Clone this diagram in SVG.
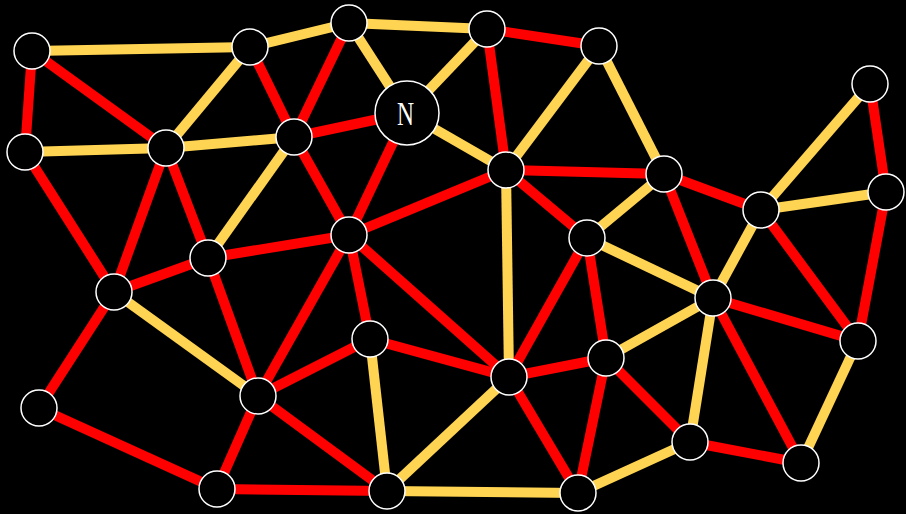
<svg xmlns="http://www.w3.org/2000/svg" width="906" height="514" viewBox="0 0 906 514">
<style>
.r{stroke:#FF0000;stroke-width:10}
.y{stroke:#FFD452;stroke-width:10}
.n{fill:#000;stroke:#fff;stroke-width:1.5}
.t{fill:#fff;font-family:"Liberation Serif",serif;font-size:33px;text-anchor:middle}
</style>
<rect width="906" height="514" fill="#000"/>
<g id="edges">
<line class="y" x1="32" y1="51" x2="250" y2="47"/>
<line class="r" x1="32" y1="51" x2="25" y2="152"/>
<line class="r" x1="32" y1="51" x2="166" y2="148"/>
<line class="y" x1="250" y1="47" x2="349" y2="23"/>
<line class="y" x1="250" y1="47" x2="166" y2="148"/>
<line class="r" x1="250" y1="47" x2="294" y2="137"/>
<line class="y" x1="349" y1="23" x2="487" y2="29"/>
<line class="r" x1="349" y1="23" x2="294" y2="137"/>
<line class="y" x1="349" y1="23" x2="407" y2="113"/>
<line class="y" x1="487" y1="29" x2="407" y2="113"/>
<line class="r" x1="487" y1="29" x2="599" y2="46"/>
<line class="r" x1="487" y1="29" x2="506" y2="170"/>
<line class="y" x1="599" y1="46" x2="506" y2="170"/>
<line class="y" x1="599" y1="46" x2="664" y2="174"/>
<line class="r" x1="407" y1="113" x2="294" y2="137"/>
<line class="y" x1="407" y1="113" x2="506" y2="170"/>
<line class="r" x1="407" y1="113" x2="349" y2="235"/>
<line class="y" x1="25" y1="152" x2="166" y2="148"/>
<line class="r" x1="25" y1="152" x2="114" y2="292"/>
<line class="y" x1="166" y1="148" x2="294" y2="137"/>
<line class="r" x1="166" y1="148" x2="114" y2="292"/>
<line class="r" x1="166" y1="148" x2="208" y2="258"/>
<line class="y" x1="294" y1="137" x2="208" y2="258"/>
<line class="r" x1="294" y1="137" x2="349" y2="235"/>
<line class="r" x1="506" y1="170" x2="664" y2="174"/>
<line class="r" x1="506" y1="170" x2="349" y2="235"/>
<line class="r" x1="506" y1="170" x2="587" y2="238"/>
<line class="y" x1="506" y1="170" x2="509" y2="377"/>
<line class="y" x1="664" y1="174" x2="587" y2="238"/>
<line class="r" x1="664" y1="174" x2="761" y2="210"/>
<line class="r" x1="664" y1="174" x2="713" y2="298"/>
<line class="y" x1="761" y1="210" x2="870" y2="84"/>
<line class="y" x1="761" y1="210" x2="886" y2="192"/>
<line class="y" x1="761" y1="210" x2="713" y2="298"/>
<line class="r" x1="761" y1="210" x2="858" y2="341"/>
<line class="r" x1="870" y1="84" x2="886" y2="192"/>
<line class="r" x1="886" y1="192" x2="858" y2="341"/>
<line class="r" x1="349" y1="235" x2="208" y2="258"/>
<line class="r" x1="349" y1="235" x2="370" y2="339"/>
<line class="r" x1="349" y1="235" x2="258" y2="396"/>
<line class="r" x1="349" y1="235" x2="509" y2="377"/>
<line class="y" x1="587" y1="238" x2="713" y2="298"/>
<line class="r" x1="587" y1="238" x2="509" y2="377"/>
<line class="r" x1="587" y1="238" x2="606" y2="358"/>
<line class="r" x1="208" y1="258" x2="114" y2="292"/>
<line class="r" x1="208" y1="258" x2="258" y2="396"/>
<line class="y" x1="114" y1="292" x2="258" y2="396"/>
<line class="r" x1="114" y1="292" x2="39" y2="408"/>
<line class="y" x1="713" y1="298" x2="606" y2="358"/>
<line class="r" x1="713" y1="298" x2="858" y2="341"/>
<line class="y" x1="713" y1="298" x2="690" y2="442"/>
<line class="r" x1="713" y1="298" x2="801" y2="463"/>
<line class="y" x1="858" y1="341" x2="801" y2="463"/>
<line class="r" x1="370" y1="339" x2="258" y2="396"/>
<line class="r" x1="370" y1="339" x2="509" y2="377"/>
<line class="y" x1="370" y1="339" x2="387" y2="491"/>
<line class="r" x1="606" y1="358" x2="509" y2="377"/>
<line class="r" x1="606" y1="358" x2="690" y2="442"/>
<line class="r" x1="606" y1="358" x2="578" y2="493"/>
<line class="y" x1="509" y1="377" x2="387" y2="491"/>
<line class="r" x1="509" y1="377" x2="578" y2="493"/>
<line class="r" x1="258" y1="396" x2="217" y2="489"/>
<line class="r" x1="258" y1="396" x2="387" y2="491"/>
<line class="r" x1="39" y1="408" x2="217" y2="489"/>
<line class="r" x1="217" y1="489" x2="387" y2="491"/>
<line class="y" x1="387" y1="491" x2="578" y2="493"/>
<line class="y" x1="578" y1="493" x2="690" y2="442"/>
<line class="r" x1="690" y1="442" x2="801" y2="463"/>
</g>
<g id="n1"><circle class="n" cx="32" cy="51" r="18"/></g>
<g id="n2"><circle class="n" cx="250" cy="47" r="18"/></g>
<g id="n3"><circle class="n" cx="349" cy="23" r="18"/></g>
<g id="n4"><circle class="n" cx="487" cy="29" r="18"/></g>
<g id="n5"><circle class="n" cx="599" cy="46" r="18"/></g>
<g id="n6"><circle class="n" cx="870" cy="84" r="18"/></g>
<g id="nN"><circle class="n" cx="407" cy="113" r="32"/><text class="t" x="405.5" y="125" textLength="17" lengthAdjust="spacingAndGlyphs">N</text></g>
<g id="n7"><circle class="n" cx="25" cy="152" r="18"/></g>
<g id="n8"><circle class="n" cx="166" cy="148" r="18"/></g>
<g id="n9"><circle class="n" cx="294" cy="137" r="18"/></g>
<g id="n10"><circle class="n" cx="506" cy="170" r="18"/></g>
<g id="n11"><circle class="n" cx="664" cy="174" r="18"/></g>
<g id="n12"><circle class="n" cx="761" cy="210" r="18"/></g>
<g id="n13"><circle class="n" cx="886" cy="192" r="18"/></g>
<g id="n14"><circle class="n" cx="349" cy="235" r="18"/></g>
<g id="n15"><circle class="n" cx="587" cy="238" r="18"/></g>
<g id="n16"><circle class="n" cx="208" cy="258" r="18"/></g>
<g id="n17"><circle class="n" cx="114" cy="292" r="18"/></g>
<g id="n18"><circle class="n" cx="713" cy="298" r="18"/></g>
<g id="n19"><circle class="n" cx="858" cy="341" r="18"/></g>
<g id="n20"><circle class="n" cx="370" cy="339" r="18"/></g>
<g id="n21"><circle class="n" cx="606" cy="358" r="18"/></g>
<g id="n22"><circle class="n" cx="509" cy="377" r="18"/></g>
<g id="n23"><circle class="n" cx="258" cy="396" r="18"/></g>
<g id="n24"><circle class="n" cx="39" cy="408" r="18"/></g>
<g id="n25"><circle class="n" cx="690" cy="442" r="18"/></g>
<g id="n26"><circle class="n" cx="801" cy="463" r="18"/></g>
<g id="n27"><circle class="n" cx="217" cy="489" r="18"/></g>
<g id="n28"><circle class="n" cx="387" cy="491" r="18"/></g>
<g id="n29"><circle class="n" cx="578" cy="493" r="18"/></g>
</svg>
